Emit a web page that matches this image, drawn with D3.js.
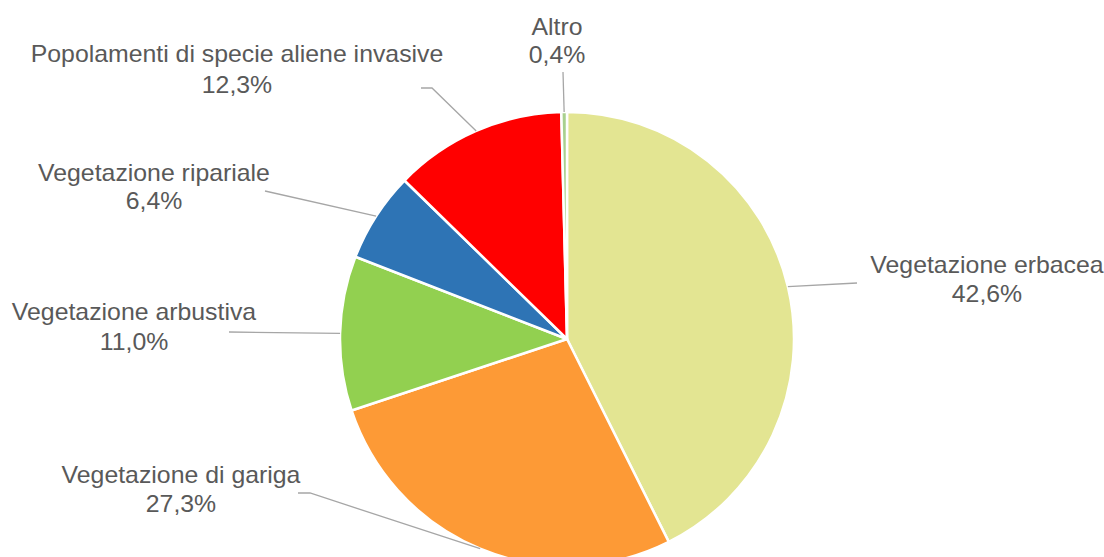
<!DOCTYPE html>
<html>
<head>
<meta charset="utf-8">
<script src="https://cdn.jsdelivr.net/npm/d3@7"></script>
<style>
  html, body { margin: 0; padding: 0; background: #ffffff; }
  svg { display: block; }
  .lbl { font-family: "Liberation Sans", Arial, sans-serif; font-size: 23px; fill: #595959; }
</style>
</head>
<body>
<svg id="chart" width="1104" height="557"></svg>
<script>
// Habitat categories and their share of the surveyed area (%)
const categories = [
  "Vegetazione erbacea",
  "Vegetazione di gariga",
  "Vegetazione arbustiva",
  "Vegetazione ripariale",
  "Popolamenti di specie aliene invasive",
  "Altro"
];
const shares = [42.6, 27.3, 11.0, 6.4, 12.3, 0.4];
const sliceColors = ["#e3e592", "#fd9a36", "#92d050", "#2e74b5", "#ff0000", "#a9d08e"];

// Label layout: text centre, baselines of the two rows, leader elbow and optional tail
const labelLayout = [
  { tx: 987, y1: 273, y2: 302, elbow: [857, 283], tail: null },
  { tx: 181, y1: 483, y2: 512, elbow: [310, 493], tail: [298, 493] },
  { tx: 134, y1: 320, y2: 350, elbow: [229, 332], tail: null },
  { tx: 154, y1: 181, y2: 209, elbow: [265, 191], tail: null },
  { tx: 237, y1: 62,  y2: 93,  elbow: [432, 88],  tail: [421, 88] },
  { tx: 557, y1: 35,  y2: 63,  elbow: [563, 72],  tail: null }
];

const cx = 567, cy = 339, radius = 227;
const fmt = v => d3.format(".1f")(v).replace(".", ",") + "%";

const svg = d3.select("#chart");
const g = svg.append("g").attr("transform", `translate(${cx},${cy})`);

const pie = d3.pie().sort(null).value(d => d)
  .startAngle(0).endAngle(2 * Math.PI);
const arcs = pie(shares);
const arc = d3.arc().innerRadius(0).outerRadius(radius);

g.selectAll("path.slice")
  .data(arcs)
  .join("path")
  .attr("class", "slice")
  .attr("d", arc)
  .attr("fill", (d, i) => sliceColors[i])
  .attr("stroke", "#ffffff")
  .attr("stroke-width", 2.5)
  .attr("stroke-linejoin", "round");

// Leader lines from the middle of each slice's outer edge to its label
const edgePoint = d => {
  const a = (d.startAngle + d.endAngle) / 2;
  return [cx + radius * Math.sin(a), cy - radius * Math.cos(a)];
};

svg.selectAll("path.leader")
  .data(arcs)
  .join("path")
  .attr("class", "leader")
  .attr("fill", "none")
  .attr("stroke", "#a6a6a6")
  .attr("stroke-width", 1.3)
  .attr("d", (d, i) => {
    const L = labelLayout[i];
    const pts = [edgePoint(d), L.elbow];
    if (L.tail) pts.push(L.tail);
    return d3.line()(pts);
  });

// Two-row labels: category name and percentage
const labels = svg.selectAll("g.label")
  .data(arcs)
  .join("g")
  .attr("class", "label");

labels.append("text")
  .attr("class", "lbl")
  .attr("text-anchor", "middle")
  .attr("transform", (d, i) => `translate(${labelLayout[i].tx},${labelLayout[i].y1}) scale(1.08,1)`)
  .text((d, i) => categories[i]);

labels.append("text")
  .attr("class", "lbl")
  .attr("text-anchor", "middle")
  .attr("transform", (d, i) => `translate(${labelLayout[i].tx},${labelLayout[i].y2}) scale(1.08,1)`)
  .text((d, i) => fmt(shares[i]));
</script>
</body>
</html>
